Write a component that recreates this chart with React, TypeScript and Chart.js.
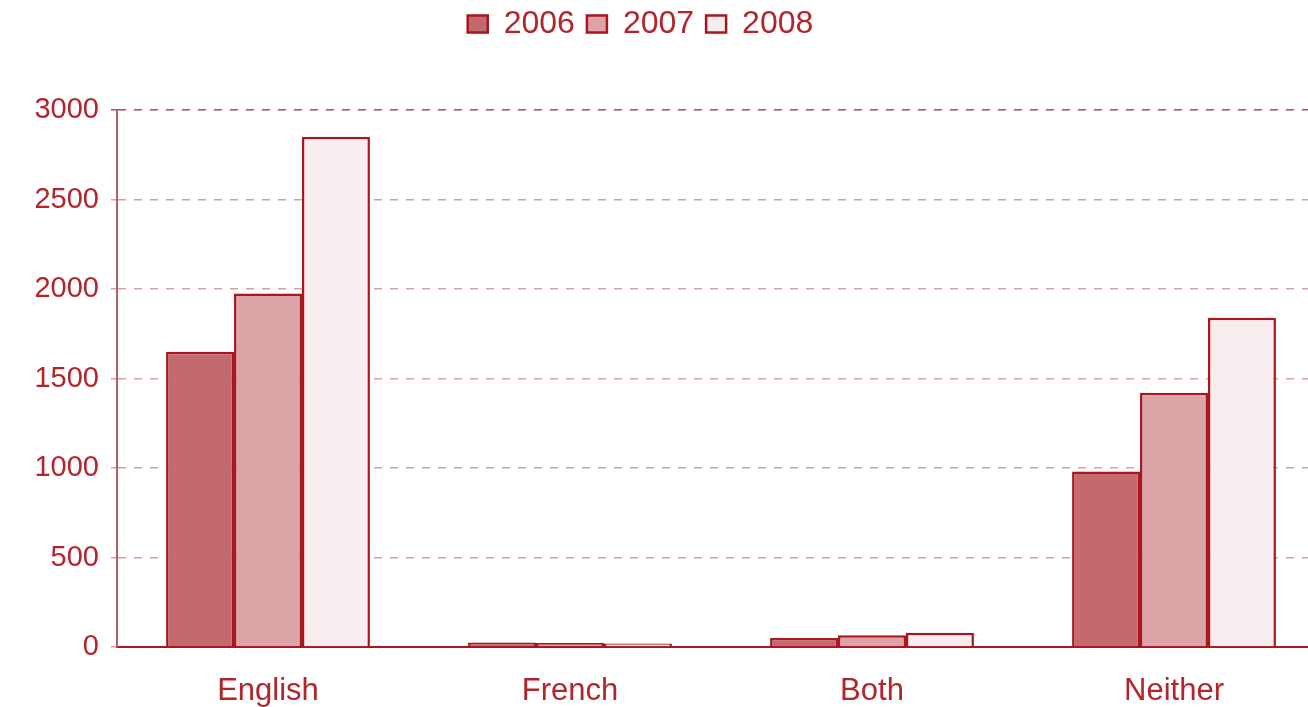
import React, { useEffect, useRef } from "react";
import { Chart, registerables } from "chart.js";

Chart.register(...registerables);

const categories = ["English", "French", "Both", "Neither"];
const seriesLabels = ["2006", "2007", "2008"];
const values2006 = [1650, 25, 50, 980];
const values2007 = [1975, 22, 65, 1420];
const values2008 = [2850, 20, 80, 1840];
const yTicks = [0, 500, 1000, 1500, 2000, 2500, 3000];

const RED = "#a8161e";
const TEXT = "#b3242c";
const FILLS = ["#c46a6e", "#dca4a7", "#f7ecee"];
const FONT = "'Liberation Sans', Arial, sans-serif";

export default function App() {
  const ref = useRef<HTMLCanvasElement | null>(null);
  useEffect(() => {
    if (!ref.current) return;
    const legendHeight = {
      id: "legendHeight",
      beforeLayout(chart: any) {
        const lg = chart.legend;
        if (lg && !lg.__patched) {
          const orig = lg.fit;
          lg.fit = function () {
            orig.call(this);
            this.height = 110;
          };
          lg.__patched = true;
        }
      },
      afterLayout(chart: any) {
        const lg = chart.legend;
        if (lg) {
          lg.left -= 22;
          lg.right -= 22;
          lg.top -= 4;
          lg.bottom -= 4;
        }
      },
    };
    const chart = new Chart(ref.current, {
      type: "bar",
      data: {
        labels: categories,
        datasets: [values2006, values2007, values2008].map((d, i) => ({
          label: seriesLabels[i],
          data: d,
          backgroundColor: FILLS[i],
          borderColor: RED,
          borderWidth: 2.5,
          barPercentage: 1,
          categoryPercentage: 0.675,
        })),
      },
      options: {
        animation: false,
        responsive: false,
        layout: { padding: { left: 0, right: 5, top: 0, bottom: 0 } },
        plugins: {
          tooltip: { enabled: false },
          legend: {
            position: "top",
            align: "center",
            labels: {
              color: TEXT,
              font: { family: FONT, size: 32 },
              boxWidth: 20,
              boxHeight: 17,
              padding: 12,
            },
          },
        },
        scales: {
          x: {
            grid: { display: false, drawTicks: false },
            border: { display: true, color: RED, width: 2 },
            ticks: {
              color: TEXT,
              font: { family: FONT, size: 31 },
              padding: 26,
            },
            afterFit(scale: any) {
              scale.height = 60;
            },
          },
          y: {
            min: 0,
            max: 3000,
            afterBuildTicks(scale: any) {
              scale.ticks = yTicks.map((v) => ({ value: v }));
            },
            grid: {
              color: (ctx: any) => (ctx.tick && ctx.tick.value === 3000 ? "#b04a50" : "#d9a0a4"),
              lineWidth: 1.5,
              drawTicks: true,
              tickLength: 6,
            },
            border: { display: true, color: "#b06068", width: 2, dash: [8, 8] },
            ticks: {
              color: TEXT,
              font: { family: FONT, size: 29 },
              padding: 12,
              callback: (v: any) => String(v),
            },
            afterFit(scale: any) {
              scale.width = 117;
            },
          },
        },
      },
      plugins: [legendHeight],
    });
    return () => chart.destroy();
  }, []);
  return (
    <div style={{ position: "fixed", left: 0, top: 0, width: 1308, height: 707, overflow: "hidden", background: "#fff" }}>
      <canvas ref={ref} width={1330} height={707} style={{ display: "block" }} />
    </div>
  );
}
